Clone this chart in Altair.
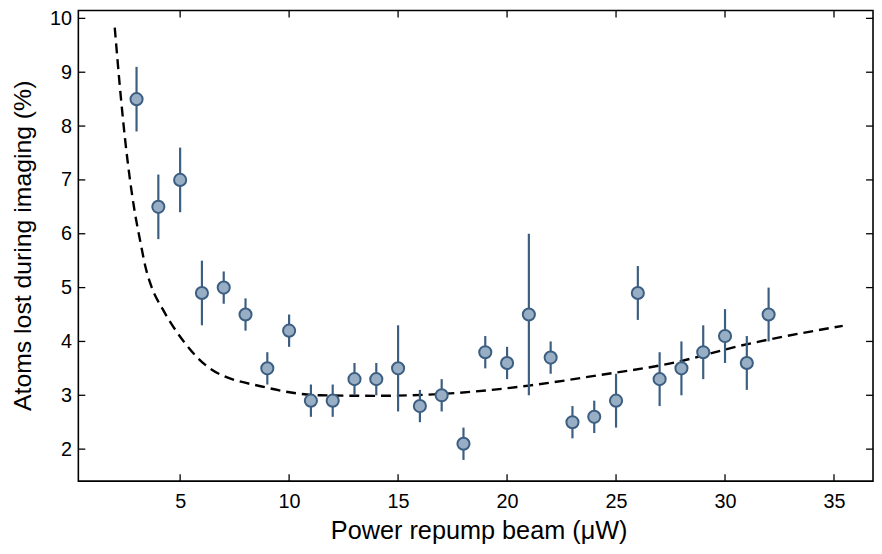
import altair as alt
import pandas as pd

# measured data points
power = [3, 4, 5, 6, 7, 8, 9, 10, 11, 12, 13, 14, 15, 16, 17, 18, 19, 20, 21, 22,
         23, 24, 25, 26, 27, 28, 29, 30, 31, 32]
loss = [8.5, 6.5, 7.0, 4.9, 5.0, 4.5, 3.5, 4.2, 2.9, 2.9, 3.3, 3.3, 3.5, 2.8, 3.0, 2.1,
        3.8, 3.6, 4.5, 3.7, 2.5, 2.6, 2.9, 4.9, 3.3, 3.5, 3.8, 4.1, 3.6, 4.5]
err = [0.6, 0.6, 0.6, 0.6, 0.3, 0.3, 0.3, 0.3, 0.3, 0.3, 0.3, 0.3, 0.8, 0.3, 0.3, 0.3,
       0.3, 0.3, 1.5, 0.3, 0.3, 0.3, 0.5, 0.5, 0.5, 0.5, 0.5, 0.5, 0.5, 0.5]

# fitted curve
fit_x = [2.0, 2.3, 2.5, 2.7, 2.9, 3.2, 3.4, 3.7, 4.2, 5.2, 6.4, 8.9, 11.4, 13.9, 17.2, 21.0,
         24.0, 27.7, 30.7, 35.4]
fit_y = [9.83, 8.45, 7.66, 7.0, 6.45, 5.8, 5.4, 5.0, 4.6, 3.98, 3.49, 3.15, 3.0, 2.99, 3.03,
         3.18, 3.36, 3.61, 3.92, 4.29]

x_ticks = [5, 10, 15, 20, 25, 30, 35]
y_ticks = [2, 3, 4, 5, 6, 7, 8, 9, 10]

W, H = 802, 475
FONT = "Liberation Sans"
FILL = "#97aec5"
EDGE = "#3c5e81"

pts = pd.DataFrame({"x": power, "y": loss,
                    "lo": [a - b for a, b in zip(loss, err)],
                    "hi": [a + b for a, b in zip(loss, err)]})
fit = pd.DataFrame({"x": fit_x, "y": fit_y})
xt = pd.DataFrame({"t": x_ticks})
yt = pd.DataFrame({"t": y_ticks})

xs = alt.Scale(domain=[0.33, 36.79], nice=False, zero=False)
ys = alt.Scale(domain=[1.406, 10.147], nice=False, zero=False)

xaxis = alt.Axis(values=x_ticks, ticks=False, tickSize=0, domain=False, grid=False,
                 labelFont=FONT, labelFontSize=20, labelColor="black", labelPadding=11,
                 title="Power repump beam (μW)", titleFont=FONT, titleFontSize=25.5,
                 titleFontWeight="normal", titleColor="black",
                 titleBaseline="alphabetic", titleY=58, titleX=404)
yaxis = alt.Axis(values=y_ticks, ticks=False, tickSize=0, domain=False, grid=False,
                 labelFont=FONT, labelFontSize=20, labelColor="black", labelPadding=7,
                 title="Atoms lost during imaging (%)", titleFont=FONT, titleFontSize=25,
                 titleFontWeight="normal", titleColor="black",
                 titleBaseline="alphabetic", titleX=-48, titleY=237)

curve = alt.Chart(fit).mark_line(color="black", strokeWidth=2.4, strokeDash=[10, 6],
                                 interpolate="monotone").encode(
    x=alt.X("x:Q", scale=xs, axis=xaxis),
    y=alt.Y("y:Q", scale=ys, axis=yaxis))

bars = alt.Chart(pts).mark_rule(color=EDGE, strokeWidth=2.2).encode(
    x=alt.X("x:Q", scale=xs), y=alt.Y("lo:Q", scale=ys), y2="hi:Q")

dots = alt.Chart(pts).mark_point(shape="circle", filled=False, size=150, fill=FILL,
                                 fillOpacity=1, stroke=EDGE, strokeWidth=2, opacity=1).encode(
    x=alt.X("x:Q", scale=xs), y=alt.Y("y:Q", scale=ys))

tick_style = dict(color="black", strokeWidth=1.3)
xb = alt.Chart(xt).mark_rule(**tick_style).encode(
    x=alt.X("t:Q", scale=xs), y=alt.value(H), y2=alt.value(H - 7))
xtop = alt.Chart(xt).mark_rule(**tick_style).encode(
    x=alt.X("t:Q", scale=xs), y=alt.value(0), y2=alt.value(7))
yl = alt.Chart(yt).mark_rule(**tick_style).encode(
    y=alt.Y("t:Q", scale=ys), x=alt.value(0), x2=alt.value(7))
yr = alt.Chart(yt).mark_rule(**tick_style).encode(
    y=alt.Y("t:Q", scale=ys), x=alt.value(W), x2=alt.value(W - 7))

chart = alt.layer(curve, bars, dots, xb, xtop, yl, yr).properties(
    width=W, height=H,
    autosize=alt.AutoSizeParams(type="none"),
    padding={"left": 71, "top": 0, "right": 1, "bottom": 63},
    background="white",
).configure_view(stroke="black", strokeWidth=1.6)

chart.save("out.html", embed_options={"renderer": "svg", "actions": False})
